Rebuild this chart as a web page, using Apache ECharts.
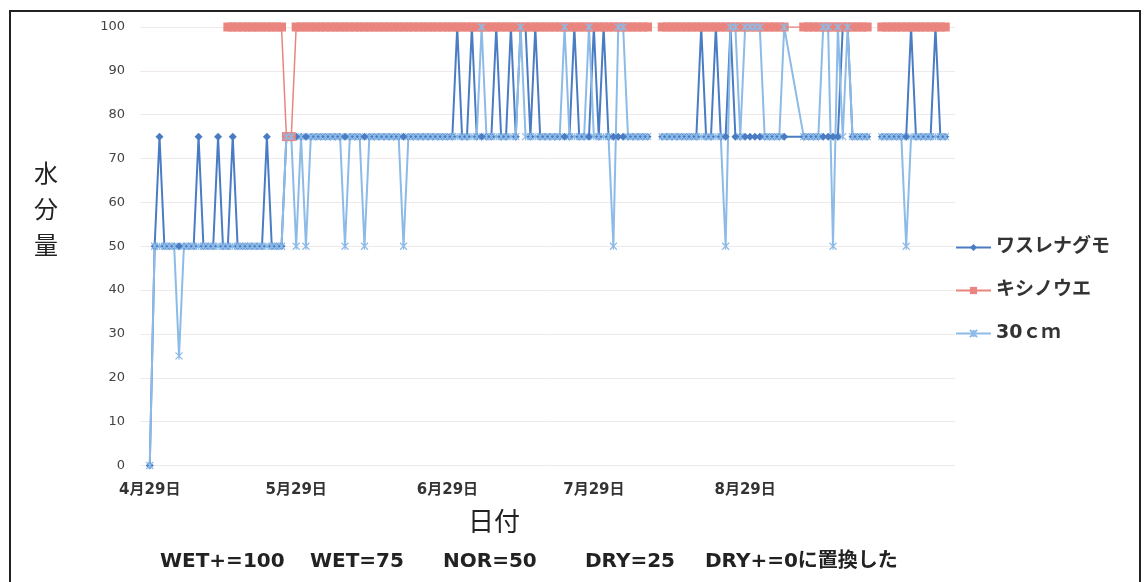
<!DOCTYPE html>
<html>
<head>
<meta charset="utf-8">
<script src="https://cdn.jsdelivr.net/npm/echarts@6/dist/echarts.min.js"></script>
<style>
html,body{margin:0;padding:0;background:#fff;}
#c{width:1144px;height:582px;}
</style>
</head>
<body>
<div id="c"></div>
<script>
// day offsets from 4/29 (rows without a date are simply not present)
var days = [
  0,1,2,3,4,5,6,7,8,9,
  10,11,12,13,14,15,16,17,18,19,
  20,21,22,23,24,25,26,27,28,29,
  30,31,32,33,34,35,36,37,38,39,
  40,41,42,43,44,45,46,47,48,49,
  50,51,52,53,54,55,56,57,58,59,
  60,61,62,63,64,65,66,67,68,69,
  70,71,72,73,74,75,76,77,78,79,
  80,81,82,83,84,85,86,87,88,89,
  90,91,92,93,94,95,96,97,98,99,
  100,101,102,103,104,105,106,107,108,109,
  110,111,112,113,114,115,116,117,118,119,
  120,121,122,123,124,125,126,127,128,129,
  130,134,135,136,137,138,139,
  140,141,142,143,144,145,146,147,148,149,
  150,151,152,153,154,155,156,157,158,159,
  160,161,162,163
];
// ワスレナグモ
var wasurenagumo = [
  0,50,75,50,50,50,50,50,50,50,
  75,50,50,50,75,50,50,75,50,50,
  50,50,50,50,75,50,50,50,75,75,
  75,75,75,75,75,75,75,75,75,75,
  75,75,75,75,75,75,75,75,75,75,
  75,75,75,75,75,75,75,75,75,75,
  75,75,75,100,75,75,100,75,75,75,
  75,100,75,75,100,75,100,100,75,100,
  75,75,75,75,75,75,75,100,75,75,
  75,100,75,100,75,75,75,75,75,75,
  75,75,75,null,null,75,75,75,75,75,
  75,75,75,100,75,75,100,75,75,100,
  75,75,75,75,75,75,75,75,75,75,
  75,75,75,75,75,75,75,
  75,75,100,100,75,75,75,75,null,null,
  75,75,75,75,75,75,100,75,75,75,
  75,100,75,75
];
// キシノウエ
var kishinoue = [
  null,null,null,null,null,null,null,null,null,null,
  null,null,null,null,null,null,100,100,100,100,
  100,100,100,100,100,100,100,100,75,75,
  100,100,100,100,100,100,100,100,100,100,
  100,100,100,100,100,100,100,100,100,100,
  100,100,100,100,100,100,100,100,100,100,
  100,100,100,100,100,100,100,100,100,100,
  100,100,100,100,100,100,100,100,100,100,
  100,100,100,100,100,100,100,100,100,100,
  100,100,100,100,100,100,100,100,100,100,
  100,100,100,null,null,100,100,100,100,100,
  100,100,100,100,100,100,100,100,100,100,
  100,100,100,100,100,100,100,100,100,100,
  100,100,100,100,100,100,100,
  100,100,100,100,100,100,100,100,null,null,
  100,100,100,100,100,100,100,100,100,100,
  100,100,100,100
];
// 30cm
var cm30 = [
  0,50,50,50,50,50,25,50,50,50,
  50,50,50,50,50,50,50,50,50,50,
  50,50,50,50,50,50,50,50,75,75,
  50,75,50,75,75,75,75,75,75,75,
  50,75,75,75,50,75,75,75,75,75,
  75,75,50,75,75,75,75,75,75,75,
  75,75,75,75,75,75,75,75,100,75,
  75,75,75,75,75,75,100,75,75,75,
  75,75,75,75,75,100,75,75,75,75,
  100,75,75,75,75,50,100,100,75,75,
  75,75,75,null,null,75,75,75,75,75,
  75,75,75,75,75,75,75,75,50,100,
  100,75,100,100,100,100,75,75,75,75,
  100,75,75,75,75,100,100,
  50,100,75,100,75,75,75,75,null,null,
  75,75,75,75,75,50,75,75,75,75,
  75,75,75,75
];
var seriesNames = ['ワスレナグモ', 'キシノウエ', '30ｃｍ'];
var tickDays = [0, 30, 61, 91, 122];
var tickLabels = ['4月29日', '5月29日', '6月29日', '7月29日', '8月29日'];
var noteTexts = ['WET+=100', 'WET=75', 'NOR=50', 'DRY=25', 'DRY+=0に置換した'];

function pairs(vals) {
  return days.map(function (d, i) { return [d, vals[i] == null ? '-' : vals[i]]; });
}

var chart = echarts.init(document.getElementById('c'), null, {renderer: 'canvas'});
var JP = '"Noto Sans CJK JP", "Noto Sans", sans-serif';
var WIDE = '"DejaVu Sans", "Noto Sans CJK JP", sans-serif';
var star = 'path://M0,0L10,10M0,10L10,0M5,0L5,10';
var notePos = [160, 310, 443, 585, 705];

chart.setOption({
  animation: false,
  backgroundColor: '#ffffff',
  grid: {left: 140, right: 189, top: 27, bottom: 116.5},
  xAxis: {
    type: 'value', min: -2, max: 165,
    axisLine: {show: false},
    axisTick: {show: false},
    splitLine: {show: false},
    axisLabel: {
      customValues: tickDays,
      margin: 17,
      fontFamily: WIDE, fontSize: 15, fontWeight: 'bold', color: '#333',
      formatter: function (v) { var k = tickDays.indexOf(v); return k >= 0 ? tickLabels[k] : ''; }
    }
  },
  yAxis: {
    type: 'value', min: 0, max: 100, interval: 10,
    axisLine: {show: false},
    axisTick: {show: false},
    axisLabel: {margin: 15, fontFamily: '"DejaVu Sans", sans-serif', fontSize: 13, color: '#444'},
    splitLine: {lineStyle: {color: '#efe9e9', width: 1}}
  },
  legend: {
    orient: 'vertical', left: 950, top: 233,
    itemWidth: 35, itemHeight: 9, itemGap: 24,
    textStyle: {fontFamily: WIDE, fontSize: 19, fontWeight: 'bold', color: '#333'},
    data: seriesNames
  },
  series: [
    {
      name: seriesNames[0], type: 'line', data: pairs(wasurenagumo),
      symbol: 'diamond', symbolSize: 8, showAllSymbol: true,
      lineStyle: {color: '#4a7cc4', width: 2},
      itemStyle: {color: '#4a7cc4'}
    },
    {
      name: seriesNames[1], type: 'line', data: pairs(kishinoue),
      symbol: 'rect', symbolSize: 9, showAllSymbol: true,
      lineStyle: {color: '#e9857e', width: 1.5},
      itemStyle: {color: '#e9857e'}
    },
    {
      name: seriesNames[2], type: 'line', data: pairs(cm30),
      symbol: star, symbolSize: 7, showAllSymbol: true,
      lineStyle: {color: '#8dbbe7', width: 2},
      itemStyle: {color: '#8dbbe7', borderColor: '#8dbbe7', borderWidth: 1.2}
    }
  ],
  graphic: [
    {type: 'rect', shape: {x: 10, y: 11, width: 1130, height: 600},
     style: {fill: 'none', stroke: '#222', lineWidth: 2}, silent: true},
    {type: 'text', left: 34, top: 155,
     style: {text: '水\n分\n量', fontFamily: JP, fontSize: 24, lineHeight: 36, fill: '#222'}},
    {type: 'text', left: 468, top: 508,
     style: {text: '日付', fontFamily: JP, fontSize: 26, fill: '#222'}}
  ].concat(noteTexts.map(function (t, i) {
    return {type: 'text', left: notePos[i], top: 552,
      style: {text: t, fontFamily: WIDE, fontSize: 20, fontWeight: 'bold', fill: '#222'}};
  }))
});
</script>
</body>
</html>
